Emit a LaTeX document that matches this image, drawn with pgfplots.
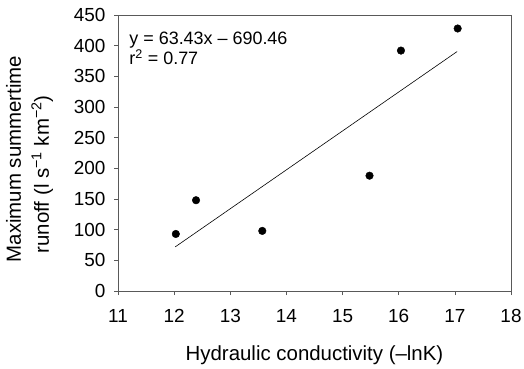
\documentclass[border=0pt]{standalone}
\usepackage{fontspec}
\setmainfont{Liberation Sans}
\usepackage{pgfplots}
\pgfplotsset{compat=1.18}
\begin{document}
\begin{tikzpicture}[x=1bp,y=1bp]
\useasboundingbox (0,0) rectangle (524,368);
\begin{axis}[
  at={(118bp,77bp)}, anchor=south west,
  scale only axis, width=393bp, height=276bp,
  xmin=11, xmax=18, ymin=0, ymax=450,
  xtick={11,...,18}, ytick={0,50,...,450},
  tick align=outside, tick pos=left,
  major tick length=4bp,
  axis line style={gray!70!black, line width=0.5pt},
  tick style={gray!70!black, line width=0.5pt},
  /pgf/number format/assume math mode=true,
  ticklabel style={font=\fontsize{19}{22}\selectfont},
  xticklabel style={yshift=-11bp},
  yticklabel style={xshift=-5bp},
  xlabel={Hydraulic conductivity (–lnK)},
  xlabel style={font=\fontsize{20.5}{24}\selectfont, yshift=-16bp},
  ylabel={Maximum summertime\\\hspace*{9bp}runoff (l s\textsuperscript{−1} km\textsuperscript{−2})},
  ylabel style={font=\fontsize{20.5}{28}\selectfont, align=left, yshift=14bp, xshift=-6bp},
  clip=false,
]
\addplot[only marks, mark=*, mark size=3.8bp, black] coordinates {
  (12.03,93) (12.39,148) (13.57,98) (15.48,188) (16.04,392) (17.05,428)
};
\addplot[black, line width=0.6pt] coordinates {(12.02,72) (17.04,390.4)};
\node[anchor=north west, align=left, inner sep=0pt, font=\fontsize{18}{20}\selectfont]
  at (axis cs:11.2,422) {y = 63.43x – 690.46\\r\textsuperscript{2} = 0.77};
\end{axis}
\end{tikzpicture}
\end{document}
